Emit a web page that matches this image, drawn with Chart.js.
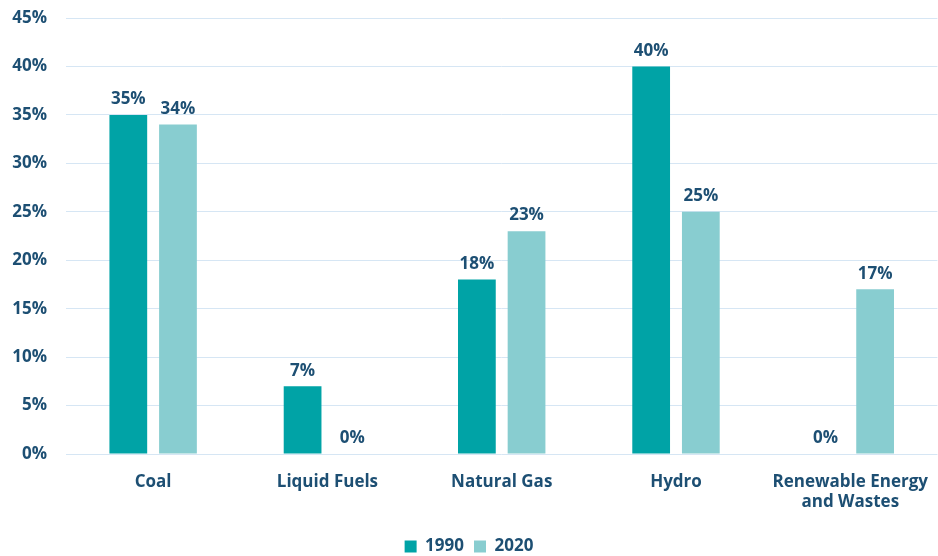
<!DOCTYPE html>
<html>
<head>
<meta charset="utf-8">
<script src="https://cdn.jsdelivr.net/npm/chart.js@4/dist/chart.umd.min.js"></script>
<style>
  html, body { margin: 0; padding: 0; background: #fff; }
</style>
</head>
<body>
<canvas id="barChart" width="938" height="556"></canvas>
<script>
const categories = ["Coal", "Liquid Fuels", "Natural Gas", "Hydro", ["Renewable Energy", "and Wastes"]]
const share1990 = [35, 7, 18, 40, 0]
const share2020 = [34, 0, 23, 25, 17]
const yTicks = [0, 5, 10, 15, 20, 25, 30, 35, 40, 45]

const navy = "#1d4f73"
Chart.defaults.font.family = "'Open Sans', sans-serif"
Chart.defaults.font.weight = "bold"
Chart.defaults.color = navy

// writes the percentage above each bar
const valueLabels = {
    id: "valueLabels",
    afterDatasetsDraw(chart) {
        const ctx = chart.ctx
        ctx.save()
        ctx.font = "bold 17px 'Open Sans', sans-serif"
        ctx.fillStyle = navy
        ctx.textAlign = "center"
        ctx.textBaseline = "bottom"
        chart.data.datasets.forEach((ds, i) => {
            chart.getDatasetMeta(i).data.forEach((bar, j) => {
                ctx.fillText(ds.data[j] + "%", bar.x, bar.y - 7)
            })
        })
        ctx.restore()
    }
}

const myBar = new Chart(document.getElementById("barChart").getContext("2d"), {
    type: "bar",
    data: {
        labels: categories,
        datasets: [{
            label: "1990",
            data: share1990,
            backgroundColor: "#00a3a6",
            categoryPercentage: 0.57,
            barPercentage: 0.76
        }, {
            label: "2020",
            data: share2020,
            backgroundColor: "#88cdd0",
            categoryPercentage: 0.57,
            barPercentage: 0.76
        }]
    },
    options: {
        responsive: false,
        animation: false,
        layout: { padding: { top: 0, right: 0, left: 0, bottom: -9 } },
        scales: {
            x: {
                grid: { display: false },
                border: { display: false },
                ticks: { font: { size: 17, weight: "bold" }, color: navy, padding: 10 },
                afterFit: (axis) => { axis.height = 74 }
            },
            y: {
                min: 0,
                max: 45,
                afterBuildTicks: (axis) => { axis.ticks = yTicks.map((v) => ({ value: v })) },
                afterFit: (axis) => {
                    axis.width = 66
                    axis.paddingTop = 18
                    axis.paddingBottom = 10
                },
                grid: { color: "#d6e6f4", lineWidth: 1, drawTicks: false },
                border: { display: false },
                ticks: {
                    font: { size: 17, weight: "bold" },
                    color: navy,
                    padding: 19,
                    callback: (v) => v + "%"
                }
            }
        },
        plugins: {
            legend: {
                position: "bottom",
                labels: {
                    boxWidth: 12,
                    boxHeight: 12,
                    padding: 10,
                    font: { size: 17, weight: "bold" },
                    color: navy
                }
            },
            tooltip: { enabled: false }
        }
    },
    plugins: [valueLabels]
})
</script>
</body>
</html>
